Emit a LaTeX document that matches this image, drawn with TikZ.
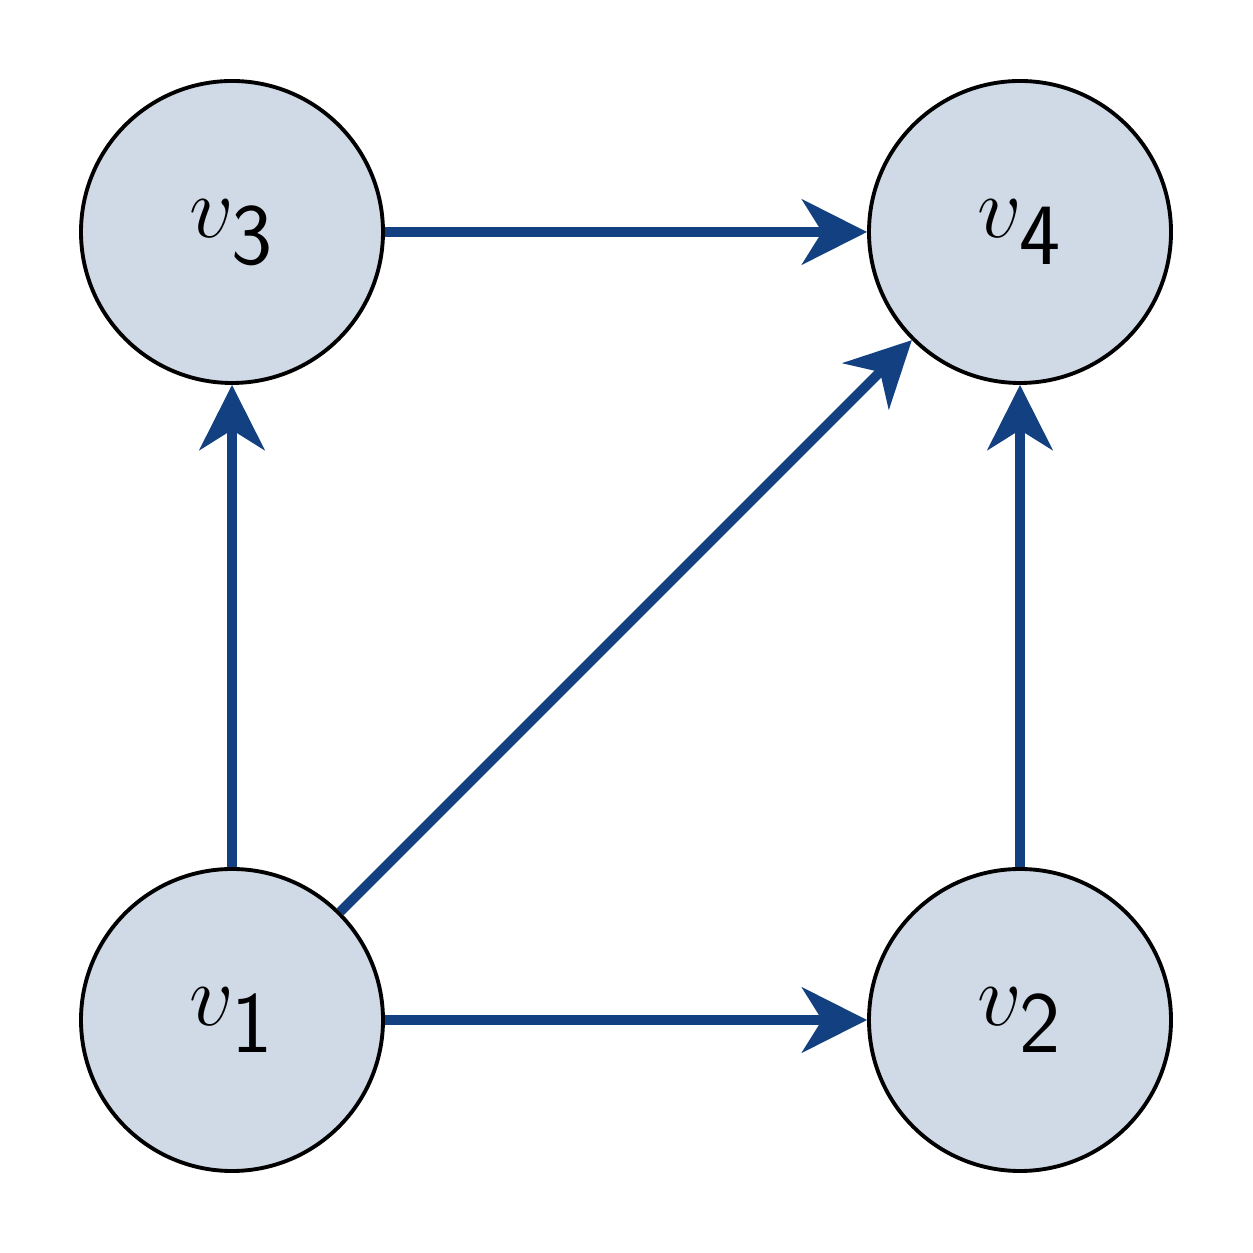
\documentclass[tikz,border=0pt]{standalone}
\usepackage{tikz}
\usetikzlibrary{positioning, arrows.meta, calc}
\definecolor{edgeblue}{RGB}{18,64,128}
\definecolor{nodefill}{RGB}{208,218,230}

\begin{document}
\begin{tikzpicture}[
  vertex/.style={circle, draw, line width=1.1pt, fill=nodefill, minimum size=3.02cm, inner sep=0pt, font=\fontsize{40}{40}\selectfont},
  arrow/.style={-{Stealth[length=6.5mm, width=6.5mm, inset=2mm]}, line width=2.8pt, edgeblue}
]
\useasboundingbox (0,0) rectangle (12.53,12.53);
\node[vertex] (V1) at (2.32,2.33) {$v_{\mathsf{1}}$};
\node[vertex] (V2) at (10.20,2.33) {$v_{\mathsf{2}}$};
\node[vertex] (V3) at (2.32,10.21) {$v_{\mathsf{3}}$};
\node[vertex] (V4) at (10.20,10.21) {$v_{\mathsf{4}}$};

\draw[arrow] (V1) -- (V2);
\draw[arrow] (V1) -- (V3);
\draw[arrow] (V1) -- (V4);
\draw[arrow] (V3) -- (V4);
\draw[arrow] (V2) -- (V4);
\end{tikzpicture}
\end{document}
